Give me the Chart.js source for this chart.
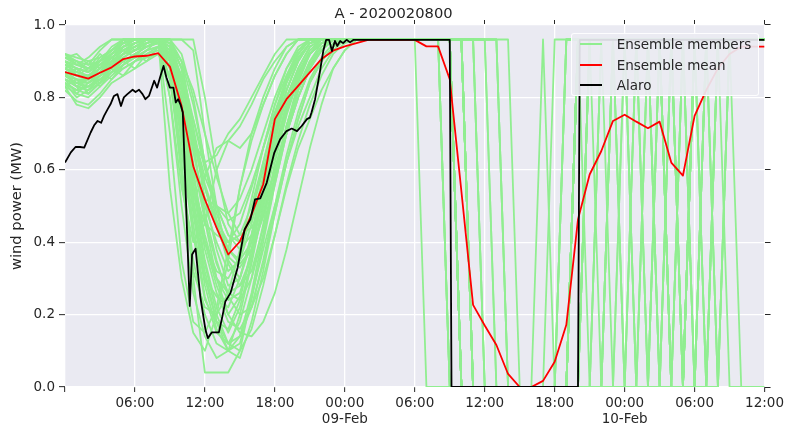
<!DOCTYPE html>
<html>
<head>
<meta charset="utf-8">
<script src="https://cdn.jsdelivr.net/npm/chart.js@4.4.1/dist/chart.umd.min.js"></script>
<style>
  body { margin: 0; background: #fff; }
  #wrap { position: relative; width: 787px; height: 430px; }
  #legend {
    position: absolute; left: 571px; top: 33px; width: 188px; height: 63px;
    box-sizing: border-box; background: rgba(234, 234, 242, 0.92);
    border: 1px solid rgba(255, 255, 255, 0.9); border-radius: 3px;
    font: 13.5px 'DejaVu Sans', sans-serif; color: #262626;
  }
  #legend .item { height: 20.5px; display: flex; align-items: center; }
  #legend .swatch { width: 22px; height: 2px; margin-left: 8px; margin-right: 14.7px; }
</style>
</head>
<body>
<div id="wrap">
  <canvas id="chart" width="787" height="430"></canvas>
  <div id="legend"></div>
</div>
<script>
// hours since 2020-02-08 00:00
const chartTitle = 'A - 2020020800';
const yTitle = 'wind power (MW)';

const memberHours = [0,1,2,3,4,5,6,7,8,9,10,11,12,13,14,15,16,17,18,19,20,
  21,22,23,24,25,26,27,28,29,30,31,32,33,34,35,36,37,38,39,40,
  41,42,43,44,45,46,47,48,49,50,51,52,53,54,55,56,57,58,59,60];

// ensemble members, one value per hour (h0..h60)
const members = [
  [.86,.84,.85,.90,.94,.96,.96,.96,.96,.55,.30, .15,.10,.20,.35,.55,.70,.80,.88,.94,.96, .96,.96,.96,.96,.96,.96,.96,.96,.96,.96,
   0,0,0,0,0,0,0,0,0,0, 0,0,0,.96,.96,.96,.96,0,.96,.96, .96,0,0,.96,.96,.96,.96,.96,.96,.96],
  [.84,.80,.82,.86,.88,.92,.94,.96,.96,.90,.62, .30,.04,.04,.04,.10,.25,.38,.50,.62,.72, .80,.88,.93,.96,.96,.96,.96,.96,.96,.96,
   .96,.96,0,0,0,0,0,0,0,0, 0,0,0,.96,.96,.96,.96,.96,0,0, .96,.96,.96,.96,.96,.96,.96,.96,.96,.96],
  [.90,.88,.87,.90,.93,.95,.96,.96,.95,.88,.70, .45,.25,.15,.12,.18,.30,.45,.62,.75,.85, .92,.96,.96,.96,.96,.96,.96,.96,.96,.96,
   .96,.96,0,0,0,0,0,0,0,0, 0,0,0,.96,.96,.96,.96,.96,0,.96, .96,.96,.96,0,.96,.96,.96,.96,.96,.96],
  [.88,.86,.85,.87,.90,.92,.93,.95,.96,.96,.85, .60,.40,.28,.20,.25,.38,.52,.68,.80,.88, .94,.96,.96,.96,.96,.96,.96,.96,.96,.96,
   .96,.96,0,0,0,0,0,0,0,0, 0,0,0,.96,.96,.96,.96,.96,.96,0, .96,.96,.96,.96,0,.96,.96,.96,.96,.96],
  [.85,.83,.82,.85,.88,.90,.92,.94,.96,.80,.55, .40,.45,.60,.68,.72,.78,.85,.90,.94,.96, .96,.96,.96,.96,.96,.96,.96,.96,.96,.96,
   .96,.96,.96,0,0,0,0,0,0,0, 0,0,0,.96,.96,.96,.96,.96,.96,0, 0,.96,.96,.96,.96,.96,.96,.96,.96,.96],
  [.92,.90,.88,.90,.93,.96,.96,.96,.96,.92,.78, .55,.35,.22,.15,.22,.35,.50,.66,.78,.86, .92,.95,.96,.96,.96,.96,.96,.96,.96,.96,
   .96,.96,.96,0,0,0,0,0,0,0, 0,0,0,.96,.96,.96,.96,.96,.96,.96, 0,0,.96,.96,.96,.96,.96,.96,.96,.96],
  [.87,.85,.84,.86,.89,.92,.95,.96,.96,.96,.96, .93,.70,.50,.35,.30,.40,.55,.70,.82,.90, .95,.96,.96,.96,.96,.96,.96,.96,.96,.96,
   .96,.96,.96,0,0,0,0,0,0,0, 0,0,0,.96,.96,.96,.96,.96,.96,.96, 0,.96,.96,.96,0,.96,.96,.96,.96,.96],
  [.83,.78,.77,.80,.84,.86,.88,.90,.92,.85,.65, .42,.30,.25,.22,.30,.42,.56,.70,.80,.87, .92,.95,.96,.96,.96,.96,.96,.96,.96,.96,
   .96,.96,.96,0,0,0,0,0,0,0, 0,0,0,.96,.96,.96,.96,.96,.96,.96, .96,0,0,.96,.96,0,.96,.96,.96,.96],
  [.89,.87,.86,.88,.92,.95,.96,.96,.96,.90,.72, .50,.32,.18,.10,.08,.18,.32,.48,.62,.74, .84,.90,.94,.96,.96,.96,.96,.96,.96,.96,
   .96,.96,.96,0,0,0,0,0,0,0, 0,0,0,.96,.96,.96,.96,.96,.96,.96, .96,0,.96,.96,.96,.96,.96,0,0,0],
  [.86,.85,.84,.86,.88,.90,.92,.94,.95,.93,.82, .65,.50,.40,.32,.35,.45,.58,.72,.84,.91, .95,.96,.96,.96,.96,.96,.96,.96,.96,.96,
   .96,.96,.96,0,0,0,0,0,0,0, 0,0,0,0,.96,.96,.96,.96,.96,.96, .96,0,0,.96,.96,.96,.96,.96,.96,.96],
  [.91,.89,.88,.90,.92,.94,.96,.96,.96,.95,.88, .70,.52,.38,.28,.30,.42,.58,.74,.86,.93, .96,.96,.96,.96,.96,.96,.96,.96,.96,.96,
   .96,.96,.96,0,0,0,0,0,0,0, 0,0,0,0,.96,.96,.96,.96,.96,.96, .96,0,.96,.96,.96,0,.96,.96,.96,.96],
  [.84,.82,.83,.85,.87,.88,.90,.91,.92,.86,.70, .55,.45,.42,.40,.45,.55,.66,.78,.86,.92, .96,.96,.96,.96,.96,.96,.96,.96,.96,.96,
   .96,.96,.96,0,0,0,0,0,0,0, 0,0,0,0,.96,.96,.96,.96,.96,.96, .96,0,0,.96,.96,.96,.96,.96,.96,.96],
  [.88,.86,.86,.89,.92,.94,.95,.96,.96,.94,.84, .66,.48,.35,.25,.20,.22,.30,.42,.55,.66, .74,.82,.88,.93,.96,.96,.96,.96,.96,.96,
   .96,.96,.96,0,0,0,0,0,0,0, 0,0,0,0,.96,.96,.96,.96,.96,.96, .96,.96,0,.96,.96,.96,.96,.96,.96,.96],
  [.85,.84,.83,.85,.88,.91,.93,.95,.96,.93,.78, .58,.42,.30,.24,.26,.36,.50,.65,.77,.86, .92,.95,.96,.96,.96,.96,.96,.96,.96,.96,
   .96,.96,.96,0,0,0,0,0,0,0, 0,0,0,0,0,.96,.96,.96,.96,.96, .96,.96,0,0,.96,.96,.96,.96,.96,.96],
  [.90,.89,.88,.90,.93,.95,.96,.96,.96,.96,.96, .96,.80,.60,.45,.40,.48,.60,.72,.82,.90, .95,.96,.96,.96,.96,.96,.96,.96,.96,.96,
   .96,.96,.96,.96,0,0,0,0,0,0, 0,0,0,0,0,.96,.96,.96,.96,.96, .96,.96,0,.96,.96,.96,.96,.96,.96,.96],
  [.87,.86,.85,.88,.91,.93,.94,.95,.96,.92,.76, .60,.52,.50,.48,.52,.60,.70,.80,.88,.93, .96,.96,.96,.96,.96,.96,.96,.96,.96,.96,
   .96,.96,.96,.96,0,0,0,0,0,0, 0,0,0,0,0,0,.96,.96,.96,.96, .96,.96,0,.96,.96,.96,.96,.96,.96,.96],
  [.83,.81,.80,.83,.86,.89,.91,.93,.94,.90,.74, .52,.34,.20,.12,.10,.16,.28,.42,.56,.68, .78,.86,.92,.95,.96,.96,.96,.96,.96,.96,
   .96,.96,.96,.96,0,0,0,0,0,0, 0,0,0,0,0,0,.96,.96,.96,.96, .96,.96,.96,0,0,.96,.96,.96,.96,.96],
  [.89,.88,.87,.89,.91,.93,.95,.96,.96,.94,.86, .70,.56,.46,.40,.42,.50,.62,.74,.84,.91, .95,.96,.96,.96,.96,.96,.96,.96,.96,.96,
   .96,.96,.96,.96,0,0,0,0,0,0, 0,0,0,0,0,0,.96,.96,.96,.96, .96,.96,.96,0,.96,.96,.96,.96,.96,.96],
  [.86,.84,.84,.87,.90,.92,.94,.96,.96,.95,.90, .78,.62,.48,.38,.34,.38,.48,.60,.72,.82, .89,.93,.96,.96,.96,.96,.96,.96,.96,.96,
   .96,.96,.96,.96,0,0,0,0,0,0, 0,0,0,0,0,0,0,.96,.96,.96, .96,.96,.96,0,0,0,.96,.96,.96,.96],
  [.92,.91,.90,.91,.93,.95,.96,.96,.96,.93,.80, .62,.46,.34,.26,.24,.30,.42,.56,.70,.80, .88,.93,.96,.96,.96,.96,.96,.96,.96,.96,
   .96,.96,.96,.96,0,0,0,0,0,0, 0,0,0,0,0,0,0,0,0,.96, .96,.96,.96,.96,.96,.96,.96,.96,.96,.96],
  [.85,.83,.82,.84,.87,.90,.92,.94,.95,.88,.68, .52,.58,.66,.68,.66,.70,.78,.86,.92,.96, .96,.96,.96,.96,.96,.96,.96,.96,.96,.96,
   .96,.96,.96,.96,0,0,0,0,0,0, 0,0,0,0,0,0,0,0,0,0, .96,.96,.96,.96,.96,.96,.96,.96,.96,.96],
  [.88,.87,.86,.88,.90,.92,.93,.94,.95,.90,.75, .55,.38,.26,.18,.16,.22,.34,.48,.62,.74, .84,.90,.94,.96,.96,.96,.96,.96,.96,.96,
   .96,.96,.96,.96,0,0,0,0,0,0, 0,0,0,0,0,0,0,0,0,0, 0,0,0,.96,.96,.96,.96,.96,.96,.96],
  [.84,.82,.81,.84,.87,.89,.91,.93,.94,.91,.82, .68,.55,.44,.36,.33,.38,.47,.58,.70,.80, .88,.93,.96,.96,.96,.96,.96,.96,.96,.96,
   .96,.96,.96,.96,0,0,0,0,0,0, 0,0,0,0,0,0,0,0,0,0, 0,0,0,.96,.96,.96,.96,.96,.96,.96],
  [.90,.88,.87,.89,.92,.95,.96,.96,.96,.96,.92, .80,.62,.46,.34,.28,.32,.44,.58,.72,.83, .90,.94,.96,.96,.96,.96,.96,.96,.96,.96,
   .96,.96,.96,.96,.96,0,0,0,0,0, 0,0,0,0,0,0,0,0,0,0, 0,0,0,0,.96,.96,.96,.96,.96,.96],
  [.87,.86,.85,.87,.90,.93,.95,.96,.96,.91,.72, .48,.28,.16,.10,.12,.24,.40,.56,.70,.82, .90,.95,.96,.96,.96,.96,.96,.96,.96,.96,
   .96,.96,.96,.96,.96,0,0,0,0,0, 0,0,0,0,0,0,0,0,0,0, 0,0,0,0,0,.96,.96,.96,.96,.96],
  [.86,.85,.85,.87,.89,.91,.93,.95,.96,.94,.84, .70,.58,.50,.46,.48,.56,.66,.76,.85,.92, .96,.96,.96,.96,.96,.96,.96,.96,.96,.96,
   .96,.96,.96,.96,.96,.96,0,0,0,0, 0,0,.96,.96,.96,.96,.96,.96,.96,.96, .96,.96,.96,.96,.96,.96,.96,.96,.96,.96],
  [.88,.86,.85,.88,.91,.94,.96,.96,.96,.95,.88, .74,.60,.50,.42,.38,.42,.52,.64,.76,.86, .92,.95,.96,.96,.96,.96,.96,.96,.96,.96,
   .96,.96,.96,.96,.96,.96,.96,0,0,0, 0,0,.96,.96,.96,.96,.96,.96,.96,.96, .96,.96,.96,.96,.96,.96,.96,.96,.96,.96],
  [.82,.79,.78,.81,.85,.88,.90,.92,.93,.88,.72, .54,.40,.32,.30,.36,.48,.62,.75,.85,.92, .96,.96,.96,.96,.96,.96,.96,.96,.96,.96,
   .96,.96,.96,.96,.96,.96,.96,0,0,0, 0,0,.96,.96,.96,.96,.96,.96,.96,.96, .96,.96,.96,.96,.96,.96,.96,.96,.96,.96],
  [.91,.90,.89,.90,.92,.94,.95,.96,.96,.95,.90, .82,.70,.58,.48,.42,.44,.50,.60,.70,.80, .88,.93,.96,.96,.96,.96,.96,.96,.96,.96,
   .96,.96,.96,.96,.96,.96,.96,0,0,0, 0,.96,.96,.96,.96,.96,.96,.96,.96,.96, .96,.96,.96,.96,.96,.96,.96,.96,.96,.96],
  [.86,.84,.83,.86,.89,.92,.94,.96,.96,.92,.74, .50,.30,.18,.12,.14,.26,.42,.58,.72,.84, .92,.96,.96,.96,.96,.96,.96,.96,.96,.96,
   .96,.96,.96,.96,.96,.96,.96,.96,0,0, .96,0,.96,.96,.96,.96,.96,.96,.96,.96, .96,.96,.96,.96,.96,.96,0,0,0,0],
  [.87,.83,.86,.84,.90,.96,.93,.96,.96,.70,.35, .18,.15,.22,.38,.55,.68,.78,.86,.92,.96, .96,.96,.96,.96,.96,.96,.96,.96,.96,.96,
   .96,.96,.96,0,0,0,0,0,0,0, 0,0,0,.96,0,.96,.96,.96,0,.96, .96,.96,0,.96,.96,.96,.96,.96,.96,.96],
  [.90,.86,.88,.92,.89,.94,.96,.96,.96,.85,.60, .35,.20,.12,.10,.14,.22,.35,.50,.64,.76, .85,.91,.95,.96,.96,.96,.96,.96,.96,.96,
   .96,.96,.96,.96,0,0,0,0,0,0, 0,0,0,0,.96,.96,0,.96,.96,.96, 0,.96,.96,.96,.96,.96,.96,.96,.96,.96],
  [.83,.85,.81,.84,.88,.86,.90,.93,.96,.96,.90, .72,.55,.45,.38,.35,.40,.52,.66,.78,.87, .93,.96,.96,.96,.96,.96,.96,.96,.96,.96,
   .96,.96,.96,0,0,0,0,0,0,0, 0,0,0,.96,.96,.96,.96,.96,.96,.96, .96,0,0,0,.96,.96,.96,.96,.96,.96],
  [.91,.92,.89,.93,.96,.96,.96,.96,.96,.80,.50, .26,.14,.08,.10,.20,.34,.50,.64,.76,.86, .92,.95,.96,.96,.96,.96,.96,.96,.96,.96,
   .96,.96,0,0,0,0,0,0,0,0, 0,0,0,0,.96,.96,.96,0,.96,.96, .96,.96,.96,.96,.96,.96,.96,.96,.96,.96],
  [.88,.90,.87,.91,.93,.96,.96,.96,.96,.94,.82, .68,.62,.64,.70,.74,.80,.86,.92,.96,.96, .96,.96,.96,.96,.96,.96,.96,.96,.96,.96,
   .96,.96,.96,.96,.96,0,0,0,0,0, 0,0,0,.96,.96,.96,.96,.96,.96,.96, .96,0,.96,.96,.96,.96,.96,.96,.96,.96],
  [.85,.81,.84,.87,.85,.89,.92,.90,.94,.90,.76, .56,.40,.30,.26,.28,.36,.48,.60,.72,.82, .89,.94,.96,.96,.96,.96,.96,.96,.96,.96,
   .96,.96,.96,0,0,0,0,0,0,0, 0,0,0,0,0,0,.96,.96,.96,0, .96,.96,.96,.96,.96,.96,.96,.96,.96,.96],
  [.89,.87,.90,.88,.92,.95,.96,.96,.96,.96,.88, .68,.46,.30,.20,.15,.14,.18,.26,.38,.52, .66,.78,.88,.93,.96,.96,.96,.96,.96,.96,
   .96,.96,.96,0,0,0,0,0,0,0, 0,0,0,.96,.96,0,.96,.96,.96,.96, .96,.96,0,0,.96,.96,.96,.96,.96,.96],
  [.86,.88,.85,.87,.91,.93,.91,.95,.96,.88,.58, .32,.22,.20,.26,.38,.52,.66,.78,.88,.94, .96,.96,.96,.96,.96,.96,.96,.96,.96,.96,
   .96,.96,.96,.96,0,0,0,0,0,0, 0,0,0,.96,.96,.96,.96,.96,.96,.96, 0,.96,.96,.96,.96,0,.96,.96,.96,.96],
  [.84,.82,.86,.83,.87,.90,.88,.92,.94,.92,.84, .74,.62,.50,.42,.40,.46,.56,.68,.80,.88, .94,.96,.96,.96,.96,.96,.96,.96,.96,.96,
   .96,.96,.96,0,0,0,0,0,0,0, 0,0,0,0,.96,.96,.96,.96,.96,.96, .96,.96,.96,.96,0,.96,.96,.96,.96,.96],
  [.92,.89,.91,.94,.96,.96,.96,.96,.96,.92,.68, .42,.24,.18,.16,.24,.38,.54,.70,.82,.90, .95,.96,.96,.96,.96,.96,.96,.96,.96,.96,
   .96,.96,.96,.96,.96,.96,0,0,0,0, 0,0,0,.96,.96,.96,.96,0,.96,.96, .96,.96,.96,.96,.96,.96,.96,.96,.96,.96]
];

// ensemble mean, hourly
const meanHours = [0,1,2,3,4,5,6,7,8,9,10,11,12,13,14,15,16,17,18,19,20,
  21,22,23,24,25,26,27,28,29,30,31,32,33,34,35,36,37,38,39,40,
  41,42,43,44,45,46,47,48,49,50,51,52,53,54,55,56,57,58,59,60];
const meanValues = [.870,.861,.852,.868,.883,.906,.913,.915,.922,.885,.776,
  .610,.518,.440,.366,.402,.476,.560,.740,.795,.832,
  .869,.906,.929,.941,.950,.959,.959,.959,.959,.959,
  .941,.941,.850,.540,.227,.170,.116,.036,0,0,
  .017,.070,.172,.463,.587,.652,.735,.752,.733,.715,
  .733,.620,.584,.749,.820,.880,.920,.940,.940,.940];

// Alaro run
const alaroHours = [0,0.5,0.9,1.3,1.65,2.2,2.5,2.8,3.1,3.35,3.65,3.9,4.2,4.5,4.8,5.05,5.35,5.8,6.05,6.35,
  6.65,6.9,7.2,7.65,7.9,8.15,8.45,8.7,9.0,9.3,9.5,9.7,9.9,10.1,10.7,10.9,11.2,11.6,12.05,12.25,
  12.6,13.2,13.5,13.75,14.2,14.8,15.4,15.9,16.3,16.75,17.3,17.95,18.45,19.0,19.45,19.9,20.3,20.75,21.0,21.15,
  21.45,21.75,21.9,22.15,22.4,22.65,22.9,23.15,23.35,23.6,23.85,24.15,24.45,24.75,33.0,33.15,44.0,44.15,60];
const alaroValues = [0.62,0.648,0.663,0.663,0.661,0.703,0.723,0.735,0.730,0.749,0.767,0.781,0.804,0.809,0.776,0.80,0.809,0.821,0.815,0.821,
  0.809,0.795,0.804,0.846,0.827,0.855,0.887,0.855,0.827,0.827,0.786,0.795,0.781,0.759,0.224,0.366,0.382,0.25,0.158,0.135,
  0.151,0.151,0.195,0.236,0.26,0.329,0.435,0.463,0.518,0.521,0.564,0.647,0.684,0.707,0.714,0.707,0.721,0.74,0.744,0.759,
  0.795,0.85,0.878,0.928,0.959,0.959,0.928,0.956,0.942,0.956,0.95,0.959,0.952,0.959,0.959,0,0,0.959,0.959];

const xTickHours = [0,6,12,18,24,30,36,42,48,54,60];
const xTickLabels = ['', '06:00', '12:00', '18:00', ['00:00','09-Feb'], '06:00', '12:00', '18:00', ['00:00','10-Feb'], '06:00', '12:00'];
const yTicks = [0, 0.2, 0.4, 0.6, 0.8, 1.0];
const yTickLabels = ['0.0', '0.2', '0.4', '0.6', '0.8', '1.0'];

const textColor = '#262626';
const pts = (xs, ys) => ys.map((y, i) => ({ x: xs[i], y: y }));
const lineStyle = { pointRadius: 0, tension: 0, fill: false, borderJoinStyle: 'round',
  clip: { left: 0, top: 0, right: 0, bottom: 0 } };

const datasets = [
  Object.assign({ label: 'Alaro', data: pts(alaroHours, alaroValues), borderColor: '#000000',
    borderWidth: 1.8, order: 0 }, lineStyle),
  Object.assign({ label: 'Ensemble mean', data: pts(meanHours, meanValues), borderColor: '#ff0000',
    borderWidth: 1.8, order: 1 }, lineStyle)
];
members.forEach((vals, i) => {
  datasets.push(Object.assign({ label: i === 0 ? 'Ensemble members' : '', data: pts(memberHours, vals),
    borderColor: '#90ee90', borderWidth: 1.8, order: 2 }, lineStyle));
});

const plotBg = {
  id: 'plotBg',
  beforeDraw(chart) {
    const { ctx, chartArea: a } = chart;
    ctx.save();
    ctx.fillStyle = '#ffffff';
    ctx.fillRect(0, 0, chart.width, chart.height);
    ctx.fillStyle = '#eaeaf2';
    ctx.fillRect(a.left, a.top, a.right - a.left, a.bottom - a.top);
    ctx.restore();
  }
};

Chart.defaults.font.family = "'DejaVu Sans', sans-serif";

const setXTicks = s => { s.ticks = xTickHours.map(v => ({ value: v })); };
const setYTicks = s => { s.ticks = yTicks.map(v => ({ value: v })); };

const chart = new Chart(document.getElementById('chart'), {
  type: 'line',
  data: { datasets },
  plugins: [plotBg],
  options: {
    responsive: false,
    animation: false,
    devicePixelRatio: 1,
    layout: { padding: 0 },
    plugins: {
      legend: { display: false },
      tooltip: { enabled: false },
      title: {
        display: true, text: chartTitle, color: textColor,
        font: { size: 14.7, weight: 'normal', lineHeight: 1.2 },
        padding: { top: 5, bottom: 0 }
      }
    },
    scales: {
      x: {
        type: 'linear', position: 'bottom', min: 0, max: 60,
        afterBuildTicks: setXTicks,
        afterFit: s => { s.height = 43; },
        ticks: {
          autoSkip: false, maxRotation: 0, color: textColor, padding: 3,
          font: { size: 13.5, lineHeight: 1.2 },
          callback: (v, i) => xTickLabels[i]
        },
        grid: { color: '#ffffff', lineWidth: 1.3, tickColor: textColor, tickWidth: 1, tickLength: 5 },
        border: { display: false }
      },
      x2: {
        type: 'linear', axis: 'x', position: 'top', min: 0, max: 60,
        afterBuildTicks: setXTicks,
        afterFit: s => { s.height = 2.36; },
        ticks: { display: false },
        grid: { drawOnChartArea: false, color: textColor, lineWidth: 1, tickLength: 5 },
        border: { display: false }
      },
      y: {
        type: 'linear', position: 'left', min: 0, max: 1,
        afterBuildTicks: setYTicks,
        afterFit: s => { s.width = 65; },
        ticks: { color: textColor, padding: 4, font: { size: 13.5 }, callback: (v, i) => yTickLabels[i] },
        grid: { color: '#ffffff', lineWidth: 1.3, tickColor: textColor, tickWidth: 1, tickLength: 6 },
        border: { display: false },
        title: {
          display: true, text: yTitle, color: textColor,
          font: { size: 14.7, lineHeight: 1.2 }, padding: { top: 8, bottom: 0 }
        }
      },
      y2: {
        type: 'linear', axis: 'y', position: 'right', min: 0, max: 1,
        afterBuildTicks: setYTicks,
        afterFit: s => { s.width = 21; },
        ticks: { display: false },
        grid: { drawOnChartArea: false, color: textColor, lineWidth: 1, tickLength: 6 },
        border: { display: false }
      }
    }
  }
});

// legend inside the plot, top right
const legendEl = document.getElementById('legend');
chart.data.datasets
  .filter(d => d.label)
  .sort((a, b) => b.order - a.order)
  .forEach(d => {
    const row = document.createElement('div');
    row.className = 'item';
    const sw = document.createElement('span');
    sw.className = 'swatch';
    sw.style.background = d.borderColor;
    const txt = document.createElement('span');
    txt.textContent = d.label;
    row.appendChild(sw);
    row.appendChild(txt);
    legendEl.appendChild(row);
  });
</script>
</body>
</html>
